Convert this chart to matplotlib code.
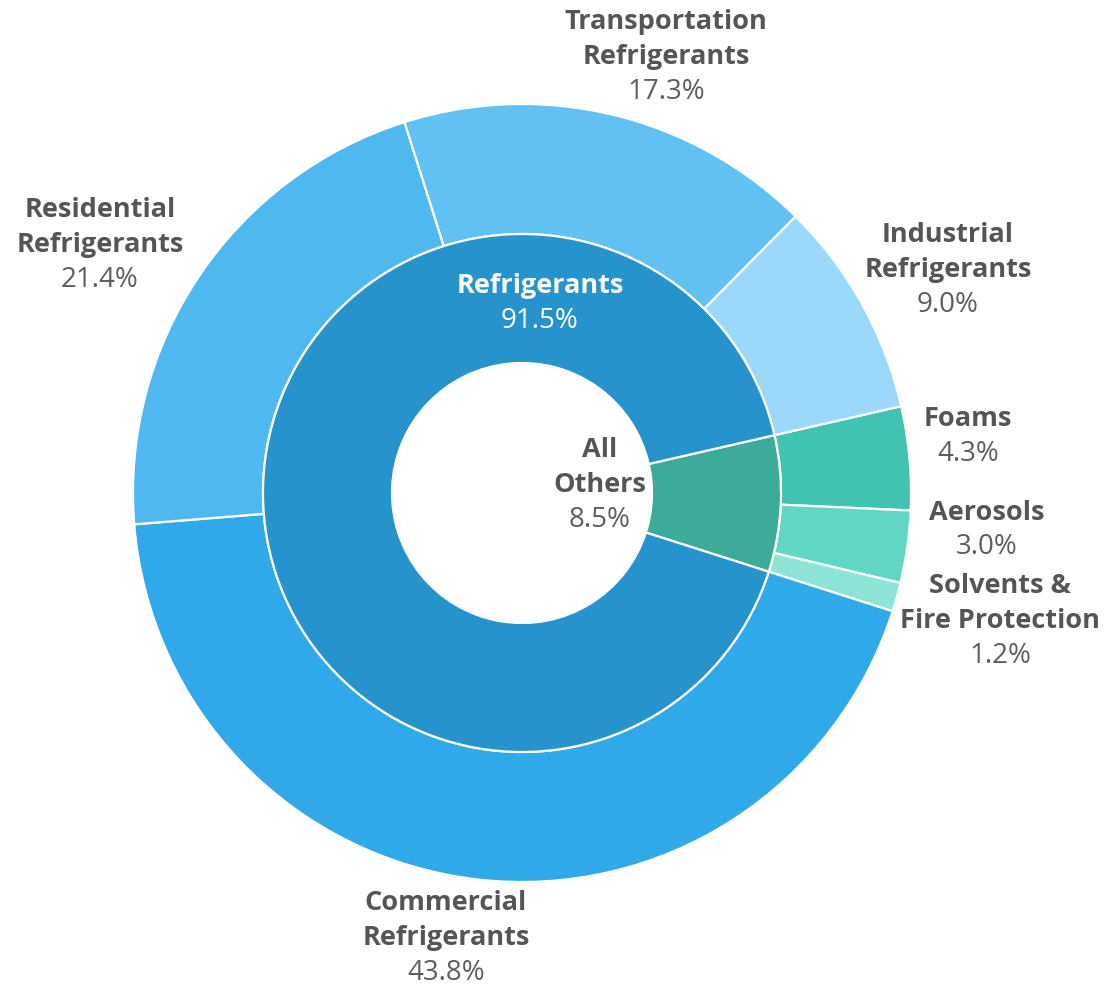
import matplotlib.pyplot as plt
import numpy as np

plt.rcParams['font.family'] = ['Open Sans', 'DejaVu Sans']

# data
outer_labels = ['Foams', 'Aerosols', 'Solvents &\nFire Protection', 'Commercial\nRefrigerants',
                'Residential\nRefrigerants', 'Transportation\nRefrigerants', 'Industrial\nRefrigerants']
outer_values = [4.3, 3.0, 1.2, 43.8, 21.4, 17.3, 9.0]
outer_colors = ['#40C3B0', '#62D6C4', '#8DE4D6', '#2FA9E9', '#4EB8EF', '#62C1F3', '#9BD8FA']

inner_labels = ['All\nOthers', 'Refrigerants']
inner_values = [8.5, 91.5]
inner_colors = ['#3CAB9A', '#2693CD']

# label placement (pixel offsets from centre) for each outer wedge
outer_label_pos = [(446, 56), (465, -37), (478, -128), (-76, -445),
                   (-422, 248), (144, 436), (426, 223)]
inner_label_pos = [(78, 8), (18, 189)]

fig = plt.figure(figsize=(11.11, 9.88), dpi=100)
ax = fig.add_axes([0, 0, 1, 1])

R_out, R_mid, R_in = 389, 259, 130
start = 12.9

ax.pie(outer_values, radius=R_out, colors=outer_colors, startangle=start, counterclock=False,
       wedgeprops=dict(width=R_out - R_mid, edgecolor='white', linewidth=1.6))
ax.pie(inner_values, radius=R_mid, colors=inner_colors, startangle=start, counterclock=False,
       wedgeprops=dict(width=R_mid - R_in, edgecolor='white', linewidth=1.6))
ax.set_xlim(-522, 589)
ax.set_ylim(-495, 493)
ax.set_aspect('equal')
ax.axis('off')

dark = '#555555'
lh = 35  # line height in px

def put_label(x, y, name, val, color_name, color_val):
    lines = name.split('\n')
    n = len(lines) + 1
    top = y + (n - 1) * lh / 2
    for i, ln in enumerate(lines):
        ax.text(x, top - i * lh, ln, ha='center', va='center', fontsize=19.5,
                fontweight='bold', color=color_name)
    ax.text(x, top - len(lines) * lh, f'{val:.1f}%', ha='center', va='center',
            fontsize=20, color=color_val)

for (x, y), name, val in zip(outer_label_pos, outer_labels, outer_values):
    put_label(x, y, name, val, dark, '#5E5E5E')

put_label(inner_label_pos[0][0], inner_label_pos[0][1], inner_labels[0], inner_values[0], dark, '#5E5E5E')
put_label(inner_label_pos[1][0], inner_label_pos[1][1], inner_labels[1], inner_values[1], 'white', 'white')

fig.savefig('out.png', dpi=100)
